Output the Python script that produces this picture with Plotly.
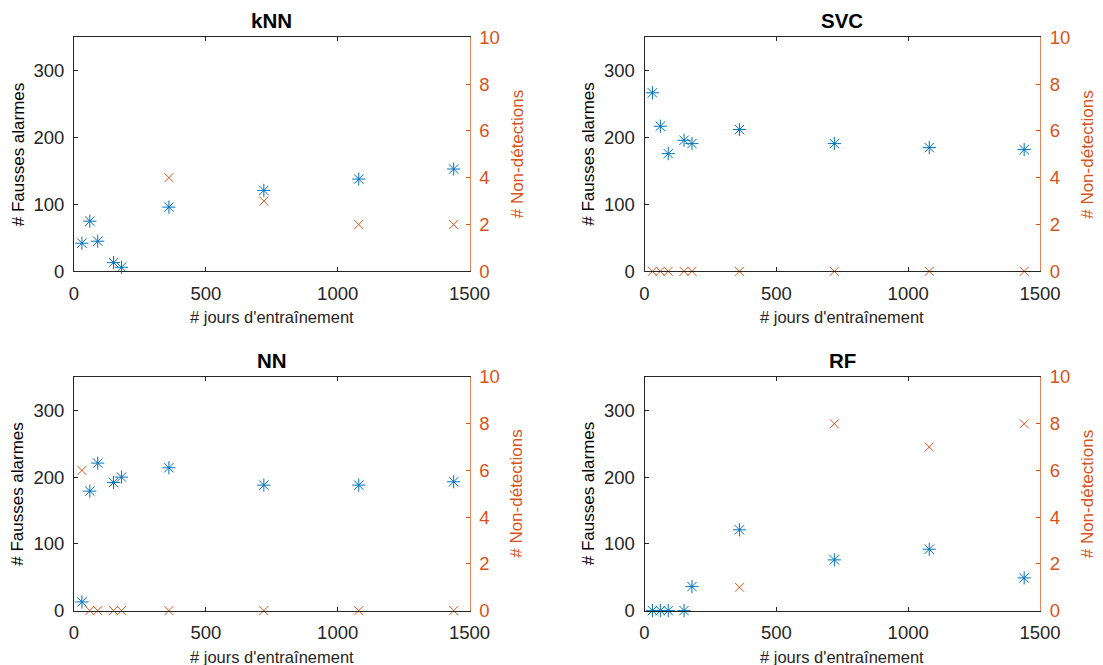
import plotly.graph_objects as go

# Training window lengths (days)
days = [30, 60, 90, 150, 180, 360, 720, 1080, 1440]

# False alarms (left axis) and missed detections (right axis) per model
knn_fa = [42, 75, 45, 13, 6, 96, 121, 138, 153]
knn_nd = [None, None, None, None, None, 4, 3, 2, 2]

svc_fa = [267, 217, 176, 196, 191, 212, 191, 185, 182]
svc_nd = [0, 0, 0, 0, 0, 0, 0, 0, 0]

nn_fa = [13, 179, 221, 192, 200, 214, 188, 188, 193]
nn_nd = [6, 0, 0, 0, 0, 0, 0, 0, 0]

rf_fa = [0, 0, 0, 0, 36, 121, 76, 92, 49]
rf_nd = [None, None, None, None, None, 1, 8, 7, 8]

model_names = ["kNN", "SVC", "NN", "RF"]
fa_ticks = [0, 100, 200, 300]
nd_ticks = [0, 2, 4, 6, 8, 10]
x_ticks = [0, 500, 1000, 1500]

W, H = 1103, 665
BLUE = "#0072BD"
ORANGE = "#D95319"
DARK = "#262626"
FONT = "Liberation Sans, Arial, sans-serif"

# panel boxes in pixels: (left, right, top, bottom)
cols = [(74, 469.5), (644.5, 1040)]
rows = [(37.3, 271.3), (377, 610.6)]

panels = [
    (knn_fa, knn_nd),
    (svc_fa, svc_nd),
    (nn_fa, nn_nd),
    (rf_fa, rf_nd),
]

fig = go.Figure()
layout = dict(
    template="none",
    width=W, height=H, autosize=False,
    margin=dict(l=0, r=0, t=0, b=0, pad=0),
    paper_bgcolor="white", plot_bgcolor="white",
    showlegend=False,
    font=dict(family=FONT, color=DARK),
)
annotations = []

for i, (fa, nd) in enumerate(panels):
    r, c = divmod(i, 2)
    left, right = cols[c]
    top, bottom = rows[r]
    xd = [left / W, right / W]
    yd = [1 - bottom / H, 1 - top / H]
    xid = f"x{2*i+1 if i else ''}"
    ya1 = f"y{2*i+1 if i else ''}"
    ya2 = f"y{2*i+2}"

    layout[f"xaxis{'' if i == 0 else 2*i+1}"] = dict(
        domain=xd, anchor=ya1, range=[0, 1500], automargin=False,
        tickvals=x_ticks, ticks="inside", ticklen=4, tickwidth=1,
        tickcolor=DARK, showline=True, linecolor=DARK, linewidth=1,
        mirror="ticks", showgrid=False, zeroline=False,
        tickfont=dict(size=18.5, color=DARK, family=FONT),
        ticklabelstandoff=5,
    )
    layout[f"yaxis{'' if i == 0 else 2*i+1}"] = dict(
        domain=yd, anchor=xid, range=[0, 350], automargin=False,
        tickvals=fa_ticks, ticks="inside", ticklen=4, tickwidth=1,
        tickcolor=DARK, showline=True, linecolor=DARK, linewidth=1,
        showgrid=False, zeroline=False,
        tickfont=dict(size=18.5, color=DARK, family=FONT),
        ticklabelstandoff=5,
    )
    layout[f"yaxis{2*i+2}"] = dict(
        domain=yd, anchor=xid, overlaying=ya1, side="right",
        range=[0, 10], tickvals=nd_ticks, ticks="inside", ticklen=4,
        automargin=False,
        tickwidth=1, tickcolor=ORANGE, showline=True, linecolor="#E4865C",
        linewidth=1, showgrid=False, zeroline=False,
        tickfont=dict(size=18.5, color=ORANGE, family=FONT),
        ticklabelstandoff=5,
    )

    fig.add_trace(go.Scatter(
        x=days, y=fa, mode="markers", xaxis=xid, yaxis=ya1,
        cliponaxis=False,
        marker=dict(symbol="asterisk-open", size=11, color=BLUE,
                    line=dict(color=BLUE, width=1)),
    ))
    fig.add_trace(go.Scatter(
        x=days, y=nd, mode="markers", xaxis=xid, yaxis=ya2,
        cliponaxis=False,
        marker=dict(symbol="x-thin-open", size=9, color=ORANGE,
                    line=dict(color=ORANGE, width=1)),
    ))

    cx = (left + right) / 2 / W
    cy = 1 - (top + bottom) / 2 / H
    # panel title
    annotations.append(dict(
        text=f"<b>{model_names[i]}</b>", x=cx, y=1 - (top - 3.5) / H,
        xref="paper", yref="paper", xanchor="center", yanchor="bottom",
        showarrow=False, font=dict(size=20.5, color="black", family=FONT),
    ))
    # x axis title
    annotations.append(dict(
        text="# jours d'entraînement", x=cx, y=1 - (bottom + 46) / H,
        xref="paper", yref="paper", xanchor="center", yanchor="middle",
        showarrow=False, font=dict(size=16.5, color=DARK, family=FONT),
    ))
    # left y axis title
    annotations.append(dict(
        text="# Fausses alarmes", x=(left - 56) / W, y=cy,
        xref="paper", yref="paper", xanchor="center", yanchor="middle",
        textangle=-90, showarrow=False,
        font=dict(size=17, color="black", family=FONT),
    ))
    # right y axis title
    annotations.append(dict(
        text="# Non-détections", x=(right + 47.5) / W, y=cy,
        xref="paper", yref="paper", xanchor="center", yanchor="middle",
        textangle=-90, showarrow=False,
        font=dict(size=17, color=ORANGE, family=FONT),
    ))

layout["annotations"] = annotations
fig.update_layout(**layout)
fig.write_html("out.html")
